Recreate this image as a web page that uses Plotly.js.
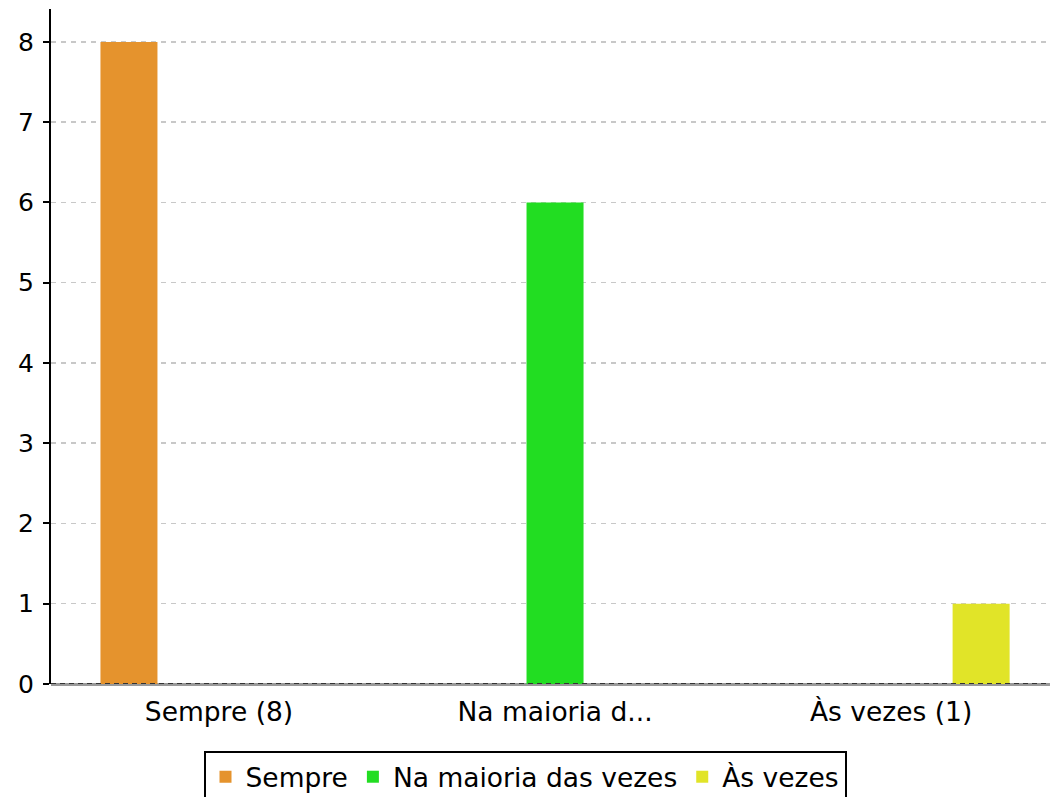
<!DOCTYPE html>
<html>
<head>
<meta charset="utf-8">
<script src="https://cdn.plot.ly/plotly-3.0.1.min.js"></script>
<style>html,body{margin:0;padding:0;background:#fff;}#chart{width:1050px;height:797px;}</style>
</head>
<body>
<div id="chart"></div>
<script>
const categories = ["Sempre (8)", "Na maioria d...", "Às vezes (1)"];
const seriesNames = ["Sempre", "Na maioria das vezes", "Às vezes"];
const sempre = [8, 0, 0];
const naMaioria = [0, 6, 0];
const asVezes = [0, 0, 1];
const colors = ["#e5932d", "#22dd22", "#e1e428"];
const yTicks = [0, 1, 2, 3, 4, 5, 6, 7, 8];

const values = [sempre, naMaioria, asVezes];
const traces = values.map((v, i) => ({
  type: "bar",
  name: seriesNames[i],
  x: categories,
  y: v,
  marker: {color: colors[i], line: {width: 0}},
  hoverinfo: "x+y+name"
}));

const layout = {
  width: 1050,
  height: 797,
  margin: {l: 51, r: 0, t: 9, b: 113},
  paper_bgcolor: "#ffffff",
  plot_bgcolor: "#ffffff",
  font: {family: "DejaVu Sans, sans-serif", color: "#000000"},
  barmode: "group",
  bargap: 0.196,
  bargroupgap: 0.367,
  showlegend: true,
  legend: {
    orientation: "h",
    xref: "container", yref: "container",
    x: 0.5, xanchor: "center",
    y: 1 - 751 / 797, yanchor: "top",
    bordercolor: "#000000", borderwidth: 2,
    bgcolor: "#ffffff",
    font: {size: 26.5, family: "DejaVu Sans", color: "#000000"},
    traceorder: "normal"
  },
  xaxis: {
    type: "category",
    range: [-0.5, 2.473],
    showgrid: false,
    zeroline: false,
    showline: false,
    ticks: "",
    tickfont: {size: 26.5, family: "DejaVu Sans", color: "#000000"},
    ticklabelstandoff: 9,
    fixedrange: true
  },
  yaxis: {
    range: [0, 8.41],
    tickvals: yTicks,
    ticktext: yTicks.map(String),
    showgrid: true,
    gridcolor: "#c8c8c8",
    gridwidth: 1.5,
    griddash: "5px,5px",
    zeroline: true,
    zerolinecolor: "#999999",
    zerolinewidth: 3,
    showline: true,
    linecolor: "#000000",
    linewidth: 2,
    ticks: "outside",
    ticklen: 6,
    tickwidth: 2,
    tickcolor: "#000000",
    tickfont: {size: 25, family: "DejaVu Sans", color: "#000000"},
    ticklabelstandoff: 4,
    fixedrange: true
  },
  shapes: [{
    type: "line", xref: "paper", yref: "y",
    x0: 0, x1: 1, y0: 0, y1: 0,
    line: {color: "#333333", width: 2, dash: "5px,4px"},
    layer: "above"
  }]
};

Plotly.newPlot("chart", traces, layout, {displayModeBar: false, staticPlot: true});
</script>
</body>
</html>
